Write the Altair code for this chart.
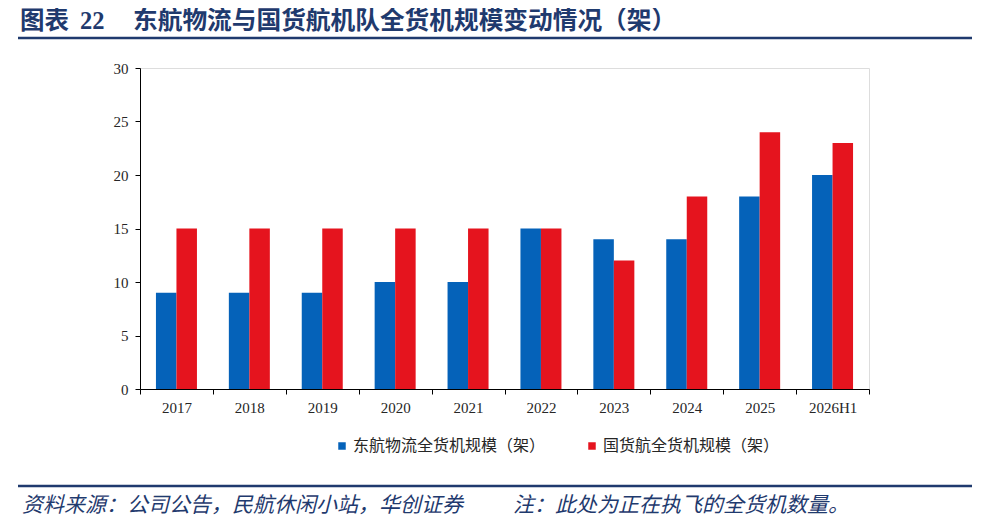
import altair as alt
import pandas as pd

categories = ["2017", "2018", "2019", "2020", "2021", "2022", "2023", "2024", "2025", "2026H1"]
series_names = ["东航物流全货机规模（架）", "国货航全货机规模（架）"]
eastern = [9, 9, 9, 10, 10, 15, 14, 14, 18, 20]
cargo = [15, 15, 15, 15, 15, 15, 12, 18, 24, 23]
y_ticks = [0, 5, 10, 15, 20, 25, 30]

title_prefix = "图表"
title_num = "22"
title_text = "东航物流与国货航机队全货机规模变动情况（架）"
source_text = "资料来源：公司公告，民航休闲小站，华创证券"
note_text = "注：此处为正在执飞的全货机数量。"

BLUE = "#0562B9"
RED = "#E5141E"
NAVY = "#1F3A6E"
CJK = "Noto Sans CJK SC"
SERIF = "Liberation Serif"
TITLE_FONT = "Liberation Serif, Noto Sans CJK SC"

rows = []
for c, a, b in zip(categories, eastern, cargo):
    rows.append({"cat": c, "series": series_names[0], "value": a})
    rows.append({"cat": c, "series": series_names[1], "value": b})
df = pd.DataFrame(rows)

W, H = 729, 321

bars = alt.Chart(df).mark_bar().encode(
    x=alt.X("cat:N", sort=categories,
            scale=alt.Scale(paddingInner=0, paddingOuter=0),
            axis=alt.Axis(title=None, labelAngle=0, tickBand="extent",
                          labelFont=SERIF, labelFontSize=15, labelColor="#262626",
                          domainColor="#000000", tickColor="#000000", tickSize=5,
                          labelPadding=6)),
    xOffset=alt.XOffset("series:N", sort=series_names,
                        scale=alt.Scale(paddingInner=0, paddingOuter=0.778)),
    y=alt.Y("value:Q", scale=alt.Scale(domain=[0, 30]),
            axis=alt.Axis(title=None, values=y_ticks, grid=False,
                          labelFont=SERIF, labelFontSize=15, labelColor="#262626",
                          domainColor="#000000", tickColor="#000000", tickSize=5,
                          labelPadding=7)),
    color=alt.Color("series:N", sort=series_names,
                    scale=alt.Scale(domain=series_names, range=[BLUE, RED]),
                    legend=alt.Legend(title=None, orient="none", legendX=194, legendY=370,
                                      direction="horizontal", symbolType="square",
                                      symbolSize=56, symbolStrokeWidth=0,
                                      labelFont=CJK, labelFontSize=16, labelColor="#262626",
                                      labelLimit=400, columnPadding=38, labelOffset=3,
                                      padding=0)),
)


def txt(s, x, y, size, color, weight="normal", style="normal", font=CJK):
    return alt.Chart(pd.DataFrame({"t": [s]})).mark_text(
        align="left", baseline="middle", font=font, fontSize=size,
        fontWeight=weight, fontStyle=style, color=color
    ).encode(x=alt.value(x), y=alt.value(y), text="t:N")


def hline(x1, x2, y, color, w):
    return alt.Chart(pd.DataFrame({"a": [0]})).mark_rule(color=color, strokeWidth=w).encode(
        x=alt.value(x1), x2=alt.value(x2), y=alt.value(y))


layers = [
    bars,
    txt(title_prefix, -120, -46, 24.5, NAVY, weight="bold", font=TITLE_FONT),
    txt(title_num, -60, -46, 24.5, NAVY, weight="bold", font=SERIF),
    txt(title_text, -7, -46, 24.7, NAVY, weight="bold", font=TITLE_FONT),
    hline(-122, 832, -30, NAVY, 2.4),
    hline(-122, 832, 418, NAVY, 2.4),
    txt(source_text, -118, 438, 21, NAVY, style="italic"),
    txt(note_text, 373, 438, 21, NAVY, style="italic"),
]

chart = alt.layer(*layers).properties(
    width=W, height=H,
    autosize=alt.AutoSizeParams(type="none"),
    padding={"left": 132, "top": 60, "right": 105, "bottom": 131},
).configure_view(stroke=None).configure(background="white")

chart.save("out.html", embed_options={"renderer": "svg", "actions": False})
